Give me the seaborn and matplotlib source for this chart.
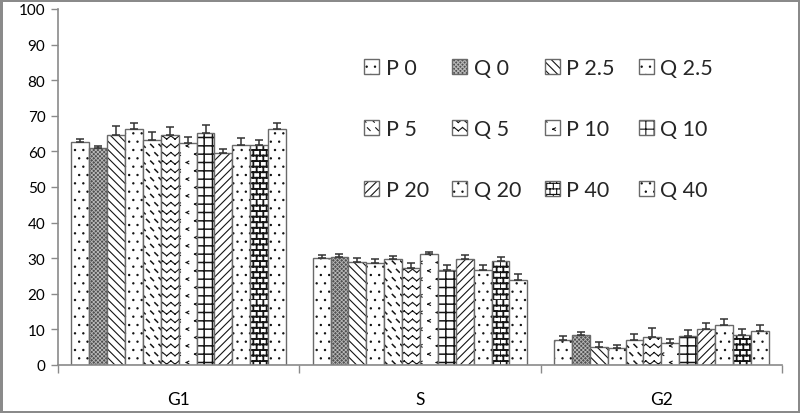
import numpy as np
import pandas as pd
import matplotlib
matplotlib.use("Agg")
import matplotlib.pyplot as plt
import matplotlib.hatch as mhatch
from matplotlib.path import Path
import seaborn as sns

# ---------------- data ----------------
phases = ["G1", "S", "G2"]
conds = ["P 0", "Q 0", "P 2.5", "Q 2.5", "P 5", "Q 5",
         "P 10", "Q 10", "P 20", "Q 20", "P 40", "Q 40"]
g1 = [62.7, 61.0, 64.7, 66.2, 63.1, 64.7, 62.4, 65.2, 59.6, 61.7, 61.8, 66.2]
g1_err = [0.9, 0.5, 2.3, 1.7, 2.2, 2.0, 1.6, 2.3, 1.0, 2.0, 1.5, 1.9]
s_vals = [30.1, 30.4, 28.8, 28.6, 29.7, 27.2, 31.2, 26.6, 29.9, 26.7, 29.1, 24.0]
s_err = [0.8, 0.7, 1.3, 1.1, 1.0, 1.5, 0.5, 1.4, 0.9, 1.5, 1.1, 1.5]
g2 = [7.0, 8.5, 5.1, 4.9, 6.9, 7.8, 6.1, 8.0, 10.1, 11.3, 8.5, 9.6]
g2_err = [1.1, 0.7, 1.4, 0.7, 1.8, 2.6, 1.3, 1.9, 1.6, 1.7, 1.7, 1.7]
yticks = list(range(0, 101, 10))

values = {"G1": g1, "S": s_vals, "G2": g2}
errors = {"G1": g1_err, "S": s_err, "G2": g2_err}

rows = []
for ph in phases:
    for c, v, e in zip(conds, values[ph], errors[ph]):
        rows.append({"phase": ph, "cond": c, "value": v, "err": e})
df = pd.DataFrame(rows)


# ---------------- custom hatch patterns (segments only, no fill) ----------------
class ZigZag(mhatch.HatchPatternBase):  # uses '*'
    def __init__(self, hatch, density):
        self.rows = int(hatch.count('*') * density)
        self.nseg = 2 * self.rows
        self.num_vertices = self.rows * self.nseg * 2

    def set_vertices_and_codes(self, vertices, codes):
        if self.rows == 0:
            return
        xs = np.linspace(0, 1, self.nseg + 1)
        amp = 0.2 / self.rows
        ys = np.where(np.arange(self.nseg + 1) % 2 == 0, -amp, amp)
        k = 0
        for r in range(self.rows):
            y0 = (r + 0.5) / self.rows
            for j in range(self.nseg):
                vertices[k] = (xs[j], y0 + ys[j]); codes[k] = Path.MOVETO; k += 1
                vertices[k] = (xs[j + 1], y0 + ys[j + 1]); codes[k] = Path.LINETO; k += 1


class Bricks(mhatch.HatchPatternBase):  # uses 'O'
    def __init__(self, hatch, density):
        self.rows = int(hatch.count('O') * density)
        self.cols = int(self.rows * 10 / 12)
        self.num_vertices = self.rows * 2 + self.rows * self.cols * 2

    def set_vertices_and_codes(self, vertices, codes):
        if self.rows == 0:
            return
        k = 0
        for r in range(self.rows):
            y = r / self.rows
            vertices[k] = (0, y); codes[k] = Path.MOVETO; k += 1
            vertices[k] = (1, y); codes[k] = Path.LINETO; k += 1
        for r in range(self.rows):
            y0 = r / self.rows
            y1 = (r + 1) / self.rows
            off = 0.5 * (r % 2)
            for c in range(self.cols):
                x = ((c + off) / self.cols) % 1.0
                vertices[k] = (x, y0); codes[k] = Path.MOVETO; k += 1
                vertices[k] = (x, y1); codes[k] = Path.LINETO; k += 1


class Chevrons(mhatch.HatchPatternBase):  # uses 'o'
    def __init__(self, hatch, density):
        self.rows = int(hatch.count('o') * density)
        self.cols = self.rows // 2
        self.num_vertices = self.rows * self.cols * 4

    def set_vertices_and_codes(self, vertices, codes):
        if self.rows == 0:
            return
        sz = 0.013
        k = 0
        for r in range(self.rows):
            y = (r + 0.5) / self.rows
            off = 0.5 * (r % 2)
            for c in range(self.cols):
                x = (c + 0.25 + off) / self.cols
                vertices[k] = (x + sz, y + sz); codes[k] = Path.MOVETO; k += 1
                vertices[k] = (x - sz, y); codes[k] = Path.LINETO; k += 1
                vertices[k] = (x - sz, y); codes[k] = Path.MOVETO; k += 1
                vertices[k] = (x + sz, y - sz); codes[k] = Path.LINETO; k += 1


class HorizPlusOnly(mhatch.HorizontalHatch):  # '+' only; '-' is reused below
    def __init__(self, hatch, density):
        self.num_lines = int(hatch.count('+') * density)
        self.num_vertices = self.num_lines * 2


class DashDiag(mhatch.HatchPatternBase):  # uses '-': short '\' dashes
    def __init__(self, hatch, density):
        self.rows = int(hatch.count('-') * density)
        self.num_vertices = self.rows * self.rows * 2

    def set_vertices_and_codes(self, vertices, codes):
        if self.rows == 0:
            return
        d = 0.014
        k = 0
        for r in range(self.rows):
            y = (r + 0.5) / self.rows
            off = 0.5 * (r % 2)
            for j in range(self.rows):
                x = (j + 0.25 + off) / self.rows
                vertices[k] = (x - d, y + d); codes[k] = Path.MOVETO; k += 1
                vertices[k] = (x + d, y - d); codes[k] = Path.LINETO; k += 1


for i, ht in enumerate(mhatch._hatch_types):
    if ht is mhatch.Stars:
        mhatch._hatch_types[i] = ZigZag
    elif ht is mhatch.LargeCircles:
        mhatch._hatch_types[i] = Bricks
    elif ht is mhatch.SmallCircles:
        mhatch._hatch_types[i] = Chevrons
    elif ht is mhatch.HorizontalHatch:
        mhatch._hatch_types[i] = HorizPlusOnly
mhatch._hatch_types.append(DashDiag)
mhatch.SmallFilledCircles.size = 0.075

# ---------------- style ----------------
sns.set_theme(style="white")
plt.rcParams["font.family"] = ["Lato", "DejaVu Sans"]
plt.rcParams["hatch.linewidth"] = 0.8

hatches = ["..", "xxxxxxxx", "\\\\\\\\", "..", "--", "**",
           "oo", "++", "////", "..", "OOO", ".."]
faces = ["white", "#505050"] + ["white"] * 10
palette = dict(zip(conds, faces))

fig = plt.figure(figsize=(8, 4.14), dpi=100)
fig.patch.set_edgecolor("#8a8a8a")
fig.patch.set_linewidth(2.5)
ax = fig.add_axes([0.0725, 0.116, 0.905, 0.86])

sns.barplot(data=df, x="phase", y="value", hue="cond", order=phases,
            hue_order=conds, palette=palette, width=0.89, errorbar=None,
            edgecolor="#6a6a6a", linewidth=1.0, legend=False, ax=ax,
            saturation=1)

bar_containers = list(ax.containers)
for i, cont in enumerate(bar_containers):
    for p in cont.patches:
        p.set_hatch(hatches[i])
        p.set_edgecolor("#6a6a6a")
        p._hatch_color = (0.08, 0.08, 0.08, 1.0)
        if conds[i] == "Q 0":
            p._hatch_color = (0.72, 0.72, 0.72, 1.0)
            if hasattr(p, "set_hatch_linewidth"):
                p.set_hatch_linewidth(0.6)
        if conds[i] == "P 40" and hasattr(p, "set_hatch_linewidth"):
            p.set_hatch_linewidth(1.3)
        if conds[i] == "Q 10" and hasattr(p, "set_hatch_linewidth"):
            p.set_hatch_linewidth(1.1)
        if conds[i] == "P 5" and hasattr(p, "set_hatch_linewidth"):
            p.set_hatch_linewidth(1.1)
    xs = [p.get_x() + p.get_width() / 2 for p in cont.patches]
    hs = [p.get_height() for p in cont.patches]
    es = [errors[ph][i] for ph in phases]
    ax.errorbar(xs, hs, yerr=[np.zeros(len(es)), es], fmt="none",
                ecolor="#333333", elinewidth=1.1, capsize=3, capthick=1.1)

ax.set_ylim(0, 100)
ax.set_xlim(-0.5, 2.5)
ax.set_yticks(yticks)
ax.set_xlabel("")
ax.set_ylabel("")
ax.set_xticks([0, 1, 2])
ax.set_xticklabels(phases)
ax.set_xticks([-0.5, 0.5, 1.5, 2.5], minor=True)
ax.tick_params(axis="x", which="major", length=0, labelsize=12.5, pad=19,
               labelcolor="black")
ax.tick_params(axis="x", which="minor", length=6, width=1, color="#8a8a8a",
               bottom=True)
ax.tick_params(axis="y", length=5, width=1, color="#8a8a8a", labelsize=11,
               pad=4, labelcolor="black", left=True)
for side in ["top", "right"]:
    ax.spines[side].set_visible(False)
for side in ["left", "bottom"]:
    ax.spines[side].set_color("#8a8a8a")
    ax.spines[side].set_linewidth(1.2)

# legend filled row by row (matplotlib fills columns first)
ncol = 4
nrow = len(conds) // ncol
order = [r * ncol + c for c in range(ncol) for r in range(nrow)]
leg = ax.legend([bar_containers[k] for k in order], [conds[k] for k in order],
                ncol=ncol, frameon=False, loc="upper left",
                bbox_to_anchor=(364 / 800, 1 - 59 / 414),
                bbox_transform=fig.transFigure, fontsize=15.5,
                handlelength=0.7, handleheight=0.7, handletextpad=0.3,
                columnspacing=1.1, labelspacing=1.9, borderpad=0,
                borderaxespad=0)

fig.savefig("out.png", dpi=100, edgecolor=fig.get_edgecolor())
